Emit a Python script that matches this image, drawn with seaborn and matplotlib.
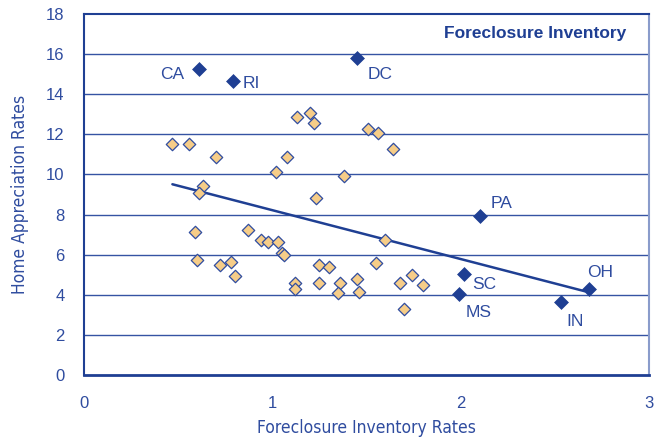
import pandas as pd
import matplotlib
matplotlib.use('Agg')
import matplotlib.pyplot as plt
import seaborn as sns

# other states (orange diamonds)
other_x = [0.47, 0.56, 0.70, 1.08, 1.02, 0.63, 0.61, 1.13, 1.20, 1.22, 1.51, 1.56,
           1.64, 1.38, 1.23, 0.59, 0.87, 0.94, 0.98, 1.03, 1.05, 1.06, 0.60, 0.72,
           0.78, 0.80, 1.12, 1.12, 1.60, 1.25, 1.30, 1.55, 1.25, 1.36, 1.35, 1.45,
           1.46, 1.68, 1.74, 1.80, 1.70]
other_y = [11.50, 11.50, 10.88, 10.88, 10.10, 9.42, 9.07, 12.87, 13.07, 12.56, 12.26, 12.08,
           11.28, 9.90, 8.80, 7.12, 7.22, 6.74, 6.62, 6.62, 6.06, 5.96, 5.74, 5.46,
           5.64, 4.94, 4.59, 4.26, 6.72, 5.47, 5.36, 5.56, 4.57, 4.57, 4.06, 4.77,
           4.14, 4.56, 4.96, 4.46, 3.28]

# labelled states (dark diamonds)
states = ['CA', 'RI', 'DC', 'PA', 'SC', 'MS', 'IN', 'OH']
state_x = [0.61, 0.79, 1.45, 2.10, 2.02, 1.99, 2.53, 2.68]
state_y = [15.25, 14.64, 15.82, 7.92, 5.04, 4.04, 3.64, 4.28]

# trend line end points
trend_x = [0.47, 2.66]
trend_y = [9.51, 4.17]

navy = '#1f3f93'
text_c = '#2f4c9f'
orange = '#f6cd88'

sns.set_style('white')
plt.rcParams['font.family'] = ['Liberation Sans', 'DejaVu Sans']
narrow = ['Liberation Sans Narrow', 'DejaVu Sans', 'Liberation Sans']

fig = plt.figure(figsize=(6.55, 4.40), dpi=100)
ax = fig.add_axes([0.128, 0.148, 0.863, 0.820])

for yv in range(2, 18, 2):
    ax.axhline(yv, color='#3553a3', lw=1.0, zorder=0)

sns.lineplot(x=trend_x, y=trend_y, color=navy, lw=1.8, ax=ax, zorder=2)

df_other = pd.DataFrame({'x': other_x, 'y': other_y})
sns.scatterplot(data=df_other, x='x', y='y', marker='D', s=40, color=orange,
                edgecolor='#2f4c9f', linewidth=0.9, ax=ax, zorder=3)

df_st = pd.DataFrame({'x': state_x, 'y': state_y, 'name': states})
sns.scatterplot(data=df_st, x='x', y='y', marker='D', s=50, color=navy,
                edgecolor=navy, linewidth=0.5, ax=ax, zorder=4)

# label offsets in pixels
offsets = {'CA': (-27, -5), 'RI': (19, -2), 'DC': (23, -17), 'PA': (22, 13),
           'SC': (20, -11), 'MS': (20, -19), 'IN': (15, -20), 'OH': (11, 17)}
for name, xv, yv in zip(states, state_x, state_y):
    ax.annotate(name, (xv, yv), xytext=offsets[name], textcoords='offset pixels',
                ha='center', va='center', fontsize=12.5, color=text_c)

ax.set_xlim(0, 3)
ax.set_ylim(0, 18)
ax.set_xticks([0, 1, 2, 3])
ax.set_yticks(range(0, 19, 2))
ax.tick_params(axis='both', direction='out', length=7, width=1, color=navy,
               labelcolor=text_c, labelsize=12)
ax.tick_params(axis='x', pad=8)
ax.tick_params(axis='y', pad=7)

for side in ['left', 'bottom', 'top']:
    ax.spines[side].set_color(navy)
ax.spines['left'].set_linewidth(1.5)
ax.spines['bottom'].set_linewidth(2)
ax.spines['top'].set_linewidth(1.5)
ax.spines['right'].set_color('#8a9ccb')
ax.spines['right'].set_linewidth(1.5)

ax.set_xlabel('Foreclosure Inventory Rates', fontsize=12.5, color=text_c, labelpad=6,
              family=narrow, stretch='condensed')
ax.set_ylabel('Home Appreciation Rates', fontsize=12.5, color=text_c, labelpad=12,
              family=narrow, stretch='condensed')

ax.text(0.959, 0.945, 'Foreclosure Inventory', transform=ax.transAxes, ha='right',
        va='center', fontsize=12.5, fontweight='bold', color=navy)

fig.savefig('out.png', dpi=100)
